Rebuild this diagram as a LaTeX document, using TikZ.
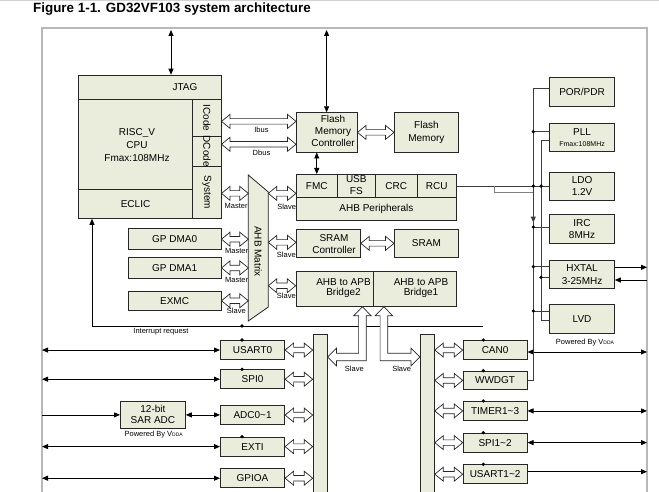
\documentclass[tikz,border=0pt]{standalone}
\usepackage{fontspec}
\setmainfont{Liberation Sans}
\usetikzlibrary{arrows.meta,calc,backgrounds}
\definecolor{boxfill}{HTML}{EAEDDC}
\definecolor{framec}{HTML}{B8B8B8}
\definecolor{wirec}{HTML}{3C3C3C}
\tikzset{
  box/.style={draw=black!85, fill=boxfill, line width=0.8pt, inner sep=0pt, anchor=north west, align=center, font=\fontsize{10}{12.3}\selectfont},
  txt/.style={inner sep=0pt, align=center, font=\fontsize{10}{12.3}\selectfont},
  lbl/.style={inner sep=0pt, font=\fontsize{7.5}{9}\selectfont},
  hollow/.style={draw=black!85, fill=white, line width=0.7pt, line join=miter},
  line/.style={draw=black, line width=0.8pt},
  wire/.style={draw=wirec, line width=1pt},
  dot/.style={fill=black},
}
\newcommand\mybox[5]{\node[box,minimum width=#3pt,minimum height=#4pt] (#1) at (#2) {#5};}
\newcommand\hda[3]{\draw[hollow] let \p1=#1, \p2=#2, \p3=#3 in (\x1,\y3) -- (\x1+8.5pt,\y3+7pt) -- (\x1+8.5pt,\y3+2.75pt) -- (\x2-8.5pt,\y3+2.75pt) -- (\x2-8.5pt,\y3+7pt) -- (\x2,\y3) -- (\x2-8.5pt,\y3-7pt) -- (\x2-8.5pt,\y3-2.75pt) -- (\x1+8.5pt,\y3-2.75pt) -- (\x1+8.5pt,\y3-7pt) -- cycle;}
\newcommand\vdda{Powered By V{\fontsize{5}{5}\selectfont DDA}}
\begin{document}
\begin{tikzpicture}[x=1pt,y=-1pt,>={Triangle[length=6pt,width=5pt]}]
\useasboundingbox (0,0) rectangle (659,492);
\clip (0,0) rectangle (659,492);
\fill[white] (0,0) rectangle (659,492);
\draw[gray!35, line width=1pt] (0,0.5) -- (659,0.5);
\node[anchor=base west, inner sep=0pt, font=\fontsize{13.4}{16}\selectfont\bfseries] (title) at (33,13) {Figure 1-1. GD32VF103 system architecture};
\node[draw=framec, line width=1.4pt, minimum width=605pt, minimum height=490pt, anchor=north west, inner sep=0pt, outer sep=0pt] (frame) at (42,28) {};

% CPU
\mybox{jtag}{78,74.7}{142.7}{24.6}{}
\node[txt] (jtagt) at (185,87) {JTAG};
\mybox{core}{78,99.3}{114.3}{90}{}
\node[txt, font=\fontsize{10}{12.9}\selectfont] (coret) at (137,145) {RISC\_V\\CPU\\Fmax:108MHz};
\mybox{eclic}{78,189.3}{114.3}{28.7}{ECLIC}
\mybox{icode}{192.3,99.3}{28.4}{36.4}{}
\mybox{dcode}{192.3,135.7}{28.4}{30.3}{}
\mybox{system}{192.3,166}{28.4}{52}{}
\node[txt, rotate=-90] (icodet) at (icode.center) {ICode};
\node[txt, rotate=-90] (dcodet) at (dcode.center) {DCode};
\node[txt, rotate=-90] (systemt) at (system.center) {System};

% Flash
\mybox{fctrl}{296,112.3}{60.7}{39.4}{}
\node[txt, font=\fontsize{10}{12.2}\selectfont] (fctrlt) at (333,130.7) {Flash\\Memory\\Controller};
\mybox{fmem}{394,112.3}{64}{39.4}{Flash\\Memory}

% AHB peripherals
\mybox{fmcc}{296,174}{40.7}{23.3}{FMC}
\mybox{usb}{336.7,174}{38.3}{23.3}{}
\node[txt, font=\fontsize{10}{11.7}\selectfont] (usbt) at (356.3,184.8) {USB\\FS};
\mybox{crc}{375,174}{41.7}{23.3}{CRC}
\mybox{rcu}{416.7,174}{39.3}{23.3}{RCU}
\mybox{ahbp}{296,197.3}{160}{22.7}{AHB Peripherals}

% SRAM
\mybox{sctrl}{296,228.7}{64}{28.5}{}
\node[txt, font=\fontsize{10}{11.7}\selectfont] (sctrlt) at (334,243.8) {SRAM\\Controller};
\mybox{sram}{394,228.7}{64}{28.5}{SRAM}

% Bridges
\mybox{brtwo}{295.7,270.7}{77.6}{35.3}{}
\mybox{brone}{373.3,270.7}{82.4}{35.3}{}
\node[txt, font=\fontsize{10}{10.8}\selectfont] (brtwot) at (343.5,288) {AHB to APB\\Bridge2};
\node[txt, font=\fontsize{10}{10.8}\selectfont] (bronet) at (421,288) {AHB to APB\\Bridge1};

% masters
\mybox{dmaz}{127.7,228.3}{93}{21}{GP DMA0}
\mybox{dmao}{127.7,257.3}{93}{20.4}{GP DMA1}
\mybox{exmc}{127.7,290.7}{93}{19.3}{EXMC}

% AHB matrix
\coordinate (mxl) at (248.3,175);
\coordinate (mxr) at (268.3,192);
\path[draw=black!85, fill=boxfill, line width=0.8pt] (mxl) -- (mxr) -- (268.3,307) -- (248.3,321) -- cycle;
\node[txt, rotate=-90] (mxt) at (258.3,251.5) {AHB Matrix};

% clock / power
\mybox{por}{549.3,77.3}{64.7}{28.4}{POR/PDR}
\mybox{pll}{549.3,122.7}{64.7}{28.3}{PLL\\[-1.3pt]{\fontsize{7}{8}\selectfont Fmax:108MHz}}
\mybox{ldo}{549.3,171.7}{64.7}{28.3}{LDO\\1.2V}
\mybox{irc}{549.3,214.3}{64.7}{29}{IRC\\8MHz}
\mybox{hxtal}{549.3,260}{64.7}{28.3}{HXTAL\\3-25MHz}
\mybox{lvd}{549.3,304.3}{64.7}{29}{LVD}
\node[lbl] (pwra) at (585,342.3) {\vdda};

% APB2 side
\mybox{usartz}{220,340}{64.3}{19.3}{USART0}
\mybox{spiz}{220,369.3}{64.3}{19}{SPI0}
\mybox{adc}{220,405}{64.3}{19.3}{ADC0\textasciitilde1}
\mybox{exti}{220,436.7}{64.3}{19}{EXTI}
\mybox{gpioa}{220,468.3}{64.3}{19}{GPIOA}
\mybox{sar}{120,400.7}{65}{27.6}{}
\node[txt, font=\fontsize{10}{11}\selectfont] (sart) at (sar.center) {12-bit\\SAR ADC};
\node[lbl] (pwrb) at (153.7,434.3) {\vdda};
\mybox{lbar}{312.7,334}{14}{200}{}

% APB1 side
\mybox{rbar}{420,334}{14}{200}{}
\mybox{canz}{462.7,340}{64}{19.3}{CAN0}
\mybox{wwdgt}{462.7,370.7}{64}{18.6}{WWDGT}
\mybox{timer}{462.7,401}{64}{19}{TIMER1\textasciitilde3}
\mybox{spiot}{462.7,432.7}{64}{19}{SPI1\textasciitilde2}
\mybox{usartot}{462.7,464.3}{64}{19}{USART1\textasciitilde2}

% coordinates
\coordinate (topa) at (171,30);
\coordinate (topb) at (326.6,30);
\coordinate (irql) at (92,326);
\coordinate (irqr) at (483.3,326);
\coordinate (lv) at (242,326);
\coordinate (bottom) at (0,500);
\coordinate (w1) at (533.3,89);
\coordinate (w2) at (541,140.7);
\coordinate (jog) at (494.3,192.7);
\coordinate (ypla) at (0,131.7);
\coordinate (yplb) at (0,140.7);
\coordinate (yirc) at (0,227);
\coordinate (yhxa) at (0,266.7);
\coordinate (yhxb) at (0,277.3);
\coordinate (ylva) at (0,311);
\coordinate (ylvb) at (0,320);
\coordinate (yarra) at (0,212);
\coordinate (yarrb) at (0,222.5);
\coordinate (yhxo) at (0,267.3);
\coordinate (yhxi) at (0,280);
\coordinate (bry) at (0,357);
\coordinate (ycan) at (0,352);
\coordinate (yuot) at (0,471.7);

% background wires
\begin{scope}[on background layer]
\draw[line] (irqr) -- (irqr |- bottom);
\draw[line] (lv) -- (lv |- gpioa.north);
\end{scope}

% interrupt request
\draw[line,->] (irqr) -- (irql) -- (irql |- eclic.south);
\node[lbl] (irqt) at (161,332) {Interrupt request};

% top arrows
\draw[line,<->] (topa) -- (topa |- jtag.north);
\draw[line,<->] (topb) -- (topb |- fctrl.north);
\draw[line,<->] (fmcc.north) -- (fmcc.north |- fctrl.south);

% hollow arrows (AHB)
\hda{(icode.east)}{(fctrl.west)}{([yshift=-3.5pt]icode.east)}
\hda{(dcode.east)}{(fctrl.west)}{([yshift=7pt]dcode.east)}
\hda{(fctrl.east)}{(fmem.west)}{(fctrl.east)}
\hda{(system.east)}{(mxl)}{([yshift=-1pt]system.east)}
\hda{(mxr)}{(ahbp.west)}{([yshift=-1pt]system.east)}
\hda{(dmaz.east)}{(mxl)}{(dmaz.east)}
\hda{(dmao.east)}{(mxl)}{(dmao.east)}
\hda{(exmc.east)}{(mxl)}{(exmc.east)}
\hda{(mxr)}{(sctrl.west)}{([yshift=1pt]sctrl.west)}
\hda{(mxr)}{(brtwo.west)}{([yshift=3pt]brtwo.west)}
\hda{(sctrl.east)}{(sram.west)}{(sctrl.east)}

\node[lbl] (lbibus) at (261.5,130) {Ibus};
\node[lbl] (lbdbus) at (261.5,153) {Dbus};
\node[lbl] (lbm1) at (236.2,205.7) {Master};
\node[lbl] (lbs1) at (286.7,207) {Slave};
\node[lbl] (lbm2) at (236.7,251) {Master};
\node[lbl] (lbm3) at (236.7,280) {Master};
\node[lbl] (lbs4) at (236.3,310.7) {Slave};
\node[lbl] (lbs2) at (286.3,255.3) {Slave};
\node[lbl] (lbs3) at (286.3,296) {Slave};

% bridge arrows
\draw[hollow] let \p1=([xshift=27.5pt]brtwo.south), \p2=(lbar.east |- bry) in
  (\x1,\y1) -- (\x1+8.8pt,\y1-9pt) -- (\x1+3.8pt,\y1-9pt) -- (\x1+3.8pt,\y2-3.8pt) -- (\x2+9pt,\y2-3.8pt) -- (\x2+9pt,\y2-8.8pt) -- (\x2,\y2) -- (\x2+9pt,\y2+8.8pt) -- (\x2+9pt,\y2+3.8pt) -- (\x1-3.8pt,\y2+3.8pt) -- (\x1-3.8pt,\y1-9pt) -- (\x1-8.8pt,\y1-9pt) -- cycle;
\draw[hollow] let \p1=([xshift=-31pt]brone.south), \p2=(rbar.west |- bry) in
  (\x1,\y1) -- (\x1+8.8pt,\y1-9pt) -- (\x1+3.8pt,\y1-9pt) -- (\x1+3.8pt,\y2+3.8pt) -- (\x2-9pt,\y2+3.8pt) -- (\x2-9pt,\y2+8.8pt) -- (\x2,\y2) -- (\x2-9pt,\y2-8.8pt) -- (\x2-9pt,\y2-3.8pt) -- (\x1-3.8pt,\y2-3.8pt) -- (\x1-3.8pt,\y1-9pt) -- (\x1-8.8pt,\y1-9pt) -- cycle;
\node[lbl] (lbs5) at (354.3,369.3) {Slave};
\node[lbl] (lbs6) at (401.7,369.3) {Slave};

% APB2 hollow arrows
\hda{(usartz.east)}{(lbar.west)}{(usartz.east)}
\hda{(spiz.east)}{(lbar.west)}{(spiz.east)}
\hda{(adc.east)}{(lbar.west)}{(adc.east)}
\hda{(exti.east)}{(lbar.west)}{(exti.east)}
\hda{(gpioa.east)}{(lbar.west)}{(gpioa.east)}
% APB1 hollow arrows
\hda{(rbar.east)}{(canz.west)}{(canz.west)}
\hda{(rbar.east)}{(wwdgt.west)}{(wwdgt.west)}
\hda{(rbar.east)}{(timer.west)}{(timer.west)}
\hda{(rbar.east)}{(spiot.west)}{(spiot.west)}
\hda{(rbar.east)}{(usartot.west)}{(usartot.west)}

% external signals left
\draw[line,<->] (frame.west |- usartz.west) -- (usartz.west);
\draw[line,<->] (frame.west |- spiz.west) -- (spiz.west);
\draw[line,->] (frame.west |- sar.west) -- (sar.west);
\draw[line,<->] (sar.east) -- (adc.west |- sar.east);
\draw[line,<->] (frame.west |- exti.west) -- (exti.west);
\draw[line,<->] (frame.west |- gpioa.west) -- (gpioa.west);

% external signals right
\draw[line,<->] (canz.east |- ycan) -- (frame.east |- ycan);
\draw[line,<->] (timer.east) -- (frame.east |- timer.east);
\draw[line,<->] (spiot.east) -- (frame.east |- spiot.east);
\draw[line,->] (usartot.east |- yuot) -- (frame.east |- yuot);
\draw[line,->] (hxtal.east |- yhxo) -- (frame.east |- yhxo);
\draw[line,<-] (hxtal.east |- yhxi) -- (frame.east |- yhxi);

% clock / power wiring
\draw[wire] (por.west |- w1) -- (w1) -- (w1 |- wwdgt.east) -- (wwdgt.east);
\draw[wire] (w1 |- ypla) -- (pll.west |- ypla);
\draw[wire] (pll.west |- yplb) -- (w2 |- yplb) -- (w2 |- ylvb) -- (lvd.west |- ylvb);
\draw[wire] (rcu.east) -- (ldo.west |- rcu.east);
\draw[wire] (w1 |- yirc) -- (irc.west |- yirc);
\draw[wire] (w1 |- yhxa) -- (hxtal.west |- yhxa);
\draw[wire] (w2 |- yhxb) -- (hxtal.west |- yhxb);
\draw[wire] (w1 |- ylva) -- (lvd.west |- ylva);
\draw[draw=gray, line width=1pt] (jog |- rcu.east) -- (jog) -- (w1 |- jog);
\draw[wire,->] (w1 |- yarra) -- (w1 |- yarrb);

% dots
\foreach \p in {(w1 |- ypla),(w1 |- rcu.east),(w2 |- rcu.east),(w1 |- yirc),(w1 |- yhxa),(w2 |- yhxb),(w1 |- ylva),
  (lv),(lv |- usartz.north),(lv |- spiz.north),(lv |- exti.north),
  (irqr |- canz.north),(irqr |- wwdgt.north),(irqr |- timer.north),(irqr |- spiot.north),(irqr |- usartot.north)}
  \fill[dot] \p circle (1.8pt);
\end{tikzpicture}
\end{document}
